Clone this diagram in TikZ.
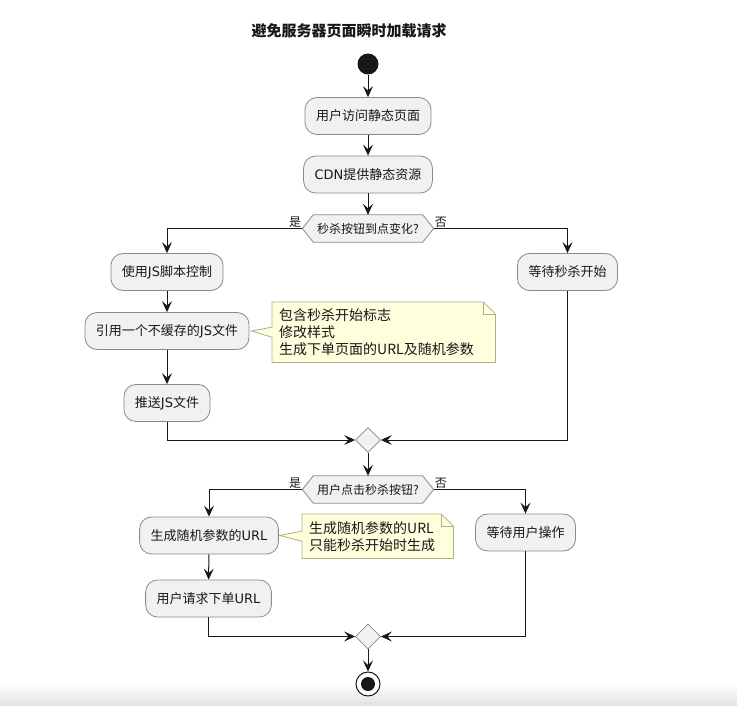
\documentclass[tikz,border=0pt]{standalone}
\usepackage{fontspec}
\setmainfont{Noto Sans CJK SC}
\newfontfamily\lat{DejaVu Sans}
\usetikzlibrary{arrows.meta,shapes.geometric,calc}
\definecolor{boxfill}{HTML}{F1F1F1}
\definecolor{boxline}{HTML}{8A8A8A}
\definecolor{notefill}{HTML}{FEFFDD}
\definecolor{noteline}{HTML}{B0AE84}
\definecolor{ink}{HTML}{181818}
\pgfdeclarelayer{bg}
\pgfdeclarelayer{canvasbg}
\pgfsetlayers{canvasbg,bg,main}
\tikzset{
  box/.style={draw=boxline, fill=boxfill, rounded corners=12, line width=0.8, minimum height=37, inner xsep=11, inner ysep=0, text=ink, font=\fontsize{13}{15}\selectfont},
  dtext/.style={minimum height=27, minimum width=109, inner sep=0, text=ink, font=\fontsize{12}{14}\selectfont},
  decshape/.style={draw=boxline, fill=boxfill, line width=0.8},
  merge/.style={diamond, draw=boxline, fill=boxfill, line width=0.8, minimum width=25, minimum height=25, inner sep=0},
  notetext/.style={anchor=north west, text width=209, inner xsep=7, inner ysep=0, align=left, text=ink, font=\fontsize{14}{17}\selectfont},
  noteshape/.style={draw=noteline, fill=notefill, line width=0.8},
  lbl/.style={inner sep=1, text=ink, font=\fontsize{12}{14}\selectfont},
  arr/.style={draw=ink, line width=1, -{Stealth[length=11pt, width=10pt, inset=4.5pt]}},
  line/.style={draw=ink, line width=1},
}
\begin{document}
\begin{tikzpicture}[x=1pt,y=-1pt]
\useasboundingbox (0,0) rectangle (737,706);
\begin{pgfonlayer}{canvasbg}
\fill[white] (0,0) rectangle (737,706);
\shade[top color=white, bottom color=black!12] (0,684) rectangle (737,706);
\end{pgfonlayer}

\node[font=\bfseries\fontsize{15}{18}\selectfont, text=ink] (title) at (349,31) {避免服务器页面瞬时加载请求};

% start
\node[circle, fill=ink, minimum size=21, inner sep=0] (start) at (368,64) {};

\node[box] (b1) at (368,116) {用户访问静态页面};
\node[box] (b2) at (368,174.5) {{\lat CDN}提供静态资源};
\node[dtext] (d1) at (368,228.5) {秒杀按钮到点变化?};
\coordinate (d1l) at ([xshift=-11pt]d1.west);
\coordinate (d1r) at ([xshift=11pt]d1.east);
\begin{pgfonlayer}{bg}
\path[decshape] (d1.north west) -- (d1.north east) -- (d1r) -- (d1.south east) -- (d1.south west) -- (d1l) -- cycle;
\end{pgfonlayer}
\node[lbl, anchor=south east] (y1) at (d1l) {是};
\node[lbl, anchor=south west] (n1l) at (d1r) {否};

\node[box] (b3) at (167,272) {使用{\lat JS}脚本控制};
\node[box] (b4) at (167,331) {引用一个不缓存的{\lat JS}文件};
\node[box] (b5) at (167,403) {推送{\lat JS}文件};
\node[box] (b6) at (567.5,272) {等待秒杀开始};

% note 1
\node[notetext, minimum height=60] (n1) at (272,302) {包含秒杀开始标志\\修改样式\\生成下单页面的URL及随机参数};
\coordinate (n1t) at ([xshift=2pt]b4.east);
\begin{pgfonlayer}{bg}
\path[noteshape] (n1.north west) -- ([xshift=-12pt]n1.north east) -- ([yshift=-12pt]n1.north east) -- (n1.south east) -- (n1.south west) -- ([yshift=-5pt]n1.west) -- (n1t) -- ([yshift=5pt]n1.west) -- cycle;
\draw[draw=noteline, line width=0.8] ([xshift=-12pt]n1.north east) -- ([xshift=-12pt,yshift=-12pt]n1.north east) -- ([yshift=-12pt]n1.north east);
\end{pgfonlayer}

\node[merge] (m1) at (368,440) {};

\node[dtext] (d2) at (368,489.5) {用户点击秒杀按钮?};
\coordinate (d2l) at ([xshift=-11pt]d2.west);
\coordinate (d2r) at ([xshift=11pt]d2.east);
\begin{pgfonlayer}{bg}
\path[decshape] (d2.north west) -- (d2.north east) -- (d2r) -- (d2.south east) -- (d2.south west) -- (d2l) -- cycle;
\end{pgfonlayer}
\node[lbl, anchor=south east] (y2) at (d2l) {是};
\node[lbl, anchor=south west] (n2l) at (d2r) {否};

\node[box] (b7) at (209,535.5) {生成随机参数的{\lat URL}};
\node[box] (b8) at (208.5,598.5) {用户请求下单{\lat URL}};
\node[box] (b9) at (525.5,532.5) {等待用户操作};

% note 2
\node[notetext, text width=137, minimum height=44] (n2) at (302,514) {生成随机参数的URL\\只能秒杀开始时生成};
\coordinate (n2t) at ([xshift=1pt]b7.east);
\begin{pgfonlayer}{bg}
\path[noteshape] (n2.north west) -- ([xshift=-12pt]n2.north east) -- ([yshift=-12pt]n2.north east) -- (n2.south east) -- (n2.south west) -- ([yshift=-5pt]n2.west) -- (n2t) -- ([yshift=5pt]n2.west) -- cycle;
\draw[draw=noteline, line width=0.8] ([xshift=-12pt]n2.north east) -- ([xshift=-12pt,yshift=-12pt]n2.north east) -- ([yshift=-12pt]n2.north east);
\end{pgfonlayer}

\node[merge] (m2) at (368,636.5) {};

% end
\node[circle, draw=ink, fill=white, line width=1, minimum size=24, inner sep=0] (end) at (368,684) {};
\fill[ink] (end.center) circle (7);

% connectors
\draw[arr] (start) -- (b1);
\draw[arr] (b1) -- (b2);
\draw[arr] (b2) -- (d1);
\draw[arr] (d1l) -| (b3.north);
\draw[arr] (d1r) -| (b6.north);
\draw[arr] (b3) -- (b4);
\draw[arr] (b4) -- (b5);
\draw[arr] (b5.south) |- (m1.west);
\draw[arr] (b6.south) |- (m1.east);
\draw[arr] (m1) -- (d2);
\draw[arr] (d2l) -| (b7.north);
\draw[arr] (d2r) -| (b9.north);
\draw[arr] (b7) -- (b8);
\draw[arr] (b8.south) |- (m2.west);
\draw[arr] (b9.south) |- (m2.east);
\draw[arr] (m2) -- (end);
\end{tikzpicture}
\end{document}
